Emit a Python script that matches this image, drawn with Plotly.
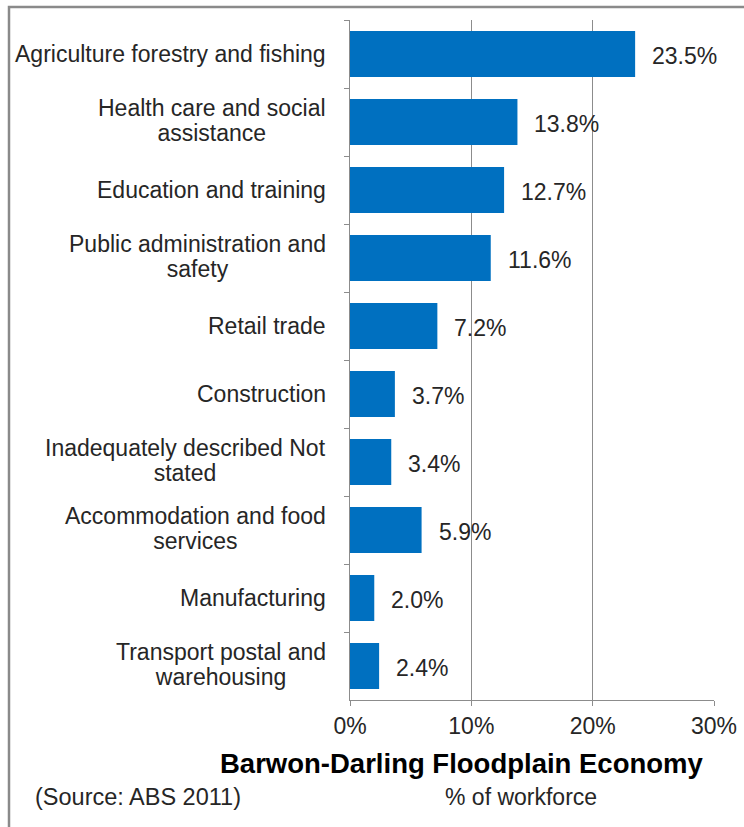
import plotly.graph_objects as go

# Share of the Barwon-Darling floodplain workforce by industry (ABS 2011)
industries = [
    "Agriculture forestry and fishing",
    "Health care and social<br>assistance",
    "Education and training",
    "Public administration and<br>safety",
    "Retail trade",
    "Construction",
    "Inadequately described Not<br>stated",
    "Accommodation and food<br>services",
    "Manufacturing",
    "Transport postal and<br>warehousing",
]
workforce_pct = [23.5, 13.8, 12.7, 11.6, 7.2, 3.7, 3.4, 5.9, 2.0, 2.4]
x_ticks = [0, 10, 20, 30]
x_tick_labels = ["0%", "10%", "20%", "30%"]

W, H = 744, 827
L, R, T, B = 350, 30, 20, 127
PW, PH = W - L - R, H - T - B

FONT = "Arial, Liberation Sans, sans-serif"
TEXT = "#262626"
GRID = "#8c8c8c"
BLUE = "#0070C0"
FS = 23


def px_x(p):
    return (p - L) / PW


def px_y(p):
    return (H - B - p) / PH


def tight_lines(label, size=FS):
    # line pitch follows the (smaller) base font, glyphs use the span size
    return "<br>".join(
        f"<span style='font-size:{size}px'>{part}</span>" for part in label.split("<br>")
    )


fig = go.Figure(
    go.Bar(
        x=workforce_pct,
        y=industries,
        orientation="h",
        marker=dict(color=BLUE, line=dict(width=0)),
        width=0.68,
        hoverinfo="skip",
    )
)

annotations = []
# category labels, right-aligned block with centred lines
for name in industries:
    annotations.append(dict(
        x=0, y=name, xref="x", yref="y", text=tight_lines(name), showarrow=False,
        xanchor="right", yanchor="middle", align="center", xshift=-22,
        yshift=2 if "<br>" in name else 0,
        font=dict(family=FONT, size=19.5, color=TEXT),
    ))
# value labels at the end of each bar
for name, v in zip(industries, workforce_pct):
    annotations.append(dict(
        x=v, y=name, xref="x", yref="y", text=f"{v:.1f}%", showarrow=False,
        xanchor="left", yanchor="middle", xshift=15, yshift=-2,
        font=dict(family=FONT, size=FS, color=TEXT),
    ))

annotations += [
    dict(x=px_x(462), y=px_y(763), xref="paper", yref="paper",
         text="<b>Barwon-Darling Floodplain Economy</b>", showarrow=False,
         xanchor="center", yanchor="middle",
         font=dict(family=FONT, size=27.5, color="#000000")),
    dict(x=px_x(521), y=px_y(797), xref="paper", yref="paper",
         text="% of workforce", showarrow=False,
         xanchor="center", yanchor="middle",
         font=dict(family=FONT, size=FS, color=TEXT)),
    dict(x=px_x(33), y=px_y(797), xref="paper", yref="paper",
         text="(Source: ABS 2011)", showarrow=False,
         xanchor="left", yanchor="middle",
         font=dict(family=FONT, size=23.5, color=TEXT)),
]

fig.update_layout(
    template="none",
    width=W, height=H,
    margin=dict(l=L, r=R, t=T, b=B, pad=0, autoexpand=False),
    paper_bgcolor="white", plot_bgcolor="white",
    showlegend=False,
    annotations=annotations,
    shapes=[dict(
        type="rect", xref="paper", yref="paper",
        x0=px_x(9), x1=px_x(760), y0=px_y(845), y1=px_y(7),
        line=dict(color="#8a8a8a", width=2.5), fillcolor="rgba(0,0,0,0)",
        layer="below",
    )],
    xaxis=dict(
        range=[0, 30], tickvals=x_ticks, ticktext=x_tick_labels,
        showgrid=True, gridcolor=GRID, gridwidth=1,
        showline=True, linecolor=GRID, linewidth=1,
        ticks="outside", ticklen=5, tickcolor=GRID,
        zeroline=False, fixedrange=True, automargin=False,
        tickfont=dict(family=FONT, size=FS, color=TEXT),
    ),
    yaxis=dict(
        autorange="reversed", showticklabels=False,
        showgrid=False, showline=True, linecolor=GRID, linewidth=1,
        ticks="outside", ticklen=5, tickcolor=GRID, tickson="boundaries",
        zeroline=False, fixedrange=True, automargin=False,
    ),
)

fig.write_html("out.html")
